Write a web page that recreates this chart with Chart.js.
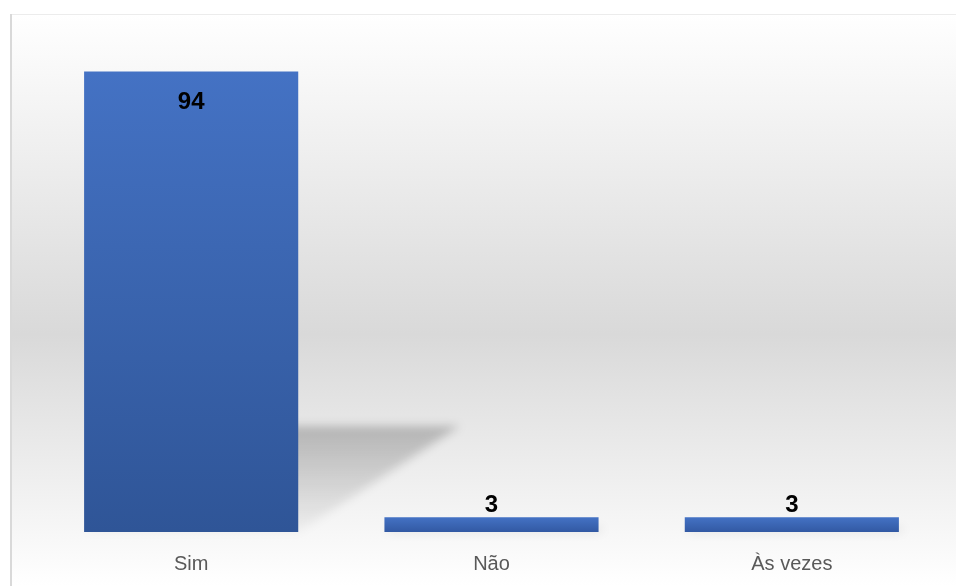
<!DOCTYPE html>
<html>
<head>
<meta charset="utf-8">
<script src="https://cdn.jsdelivr.net/npm/chart.js@4/dist/chart.umd.min.js"></script>
<style>
  html, body { margin: 0; padding: 0; background: #ffffff; }
  canvas { display: block; }
</style>
</head>
<body>
<canvas id="answerChart" width="956" height="586"></canvas>
<script>
// Respostas
const categories = ["Sim", "Não", "Às vezes"];
const answerCounts = [94, 3, 3];
const axisMax = 100;

// Panel background: framed box with a soft vertical gray gradient
const panelBackground = {
  id: "panelBackground",
  beforeDraw(chart) {
    const ctx = chart.ctx;
    const w = chart.width;
    const h = chart.height;
    ctx.save();
    ctx.fillStyle = "#ffffff";
    ctx.fillRect(0, 0, w, h);
    let grad = ctx.createLinearGradient(0, 14, 0, h);
    grad.addColorStop(0, "#ffffff");
    grad.addColorStop(0.56, "#d9d9d9");
    grad.addColorStop(1, "#ffffff");
    ctx.fillStyle = grad;
    ctx.fillRect(10, 14, w - 10, h - 14);
    ctx.fillStyle = "#ececec";
    ctx.fillRect(10, 14, w - 10, 1);
    ctx.fillStyle = "#d9d9d9";
    ctx.fillRect(10, 14, 2, h - 14);
    ctx.restore();
  },
};

// Perspective shadow thrown to the upper right of each bar
const barShadow = {
  id: "barShadow",
  beforeDatasetsDraw(chart) {
    const ctx = chart.ctx;
    const meta = chart.getDatasetMeta(0);
    ctx.save();
    ctx.filter = "blur(5px)";
    meta.data.forEach((bar) => {
      let height = bar.base - bar.y;
      let half = bar.width / 2;
      let topY = bar.base - height * 0.23;
      let skew = height * 0.35;
      let grad = ctx.createLinearGradient(0, topY, 0, bar.base);
      grad.addColorStop(0, "rgba(0,0,0,0.22)");
      grad.addColorStop(1, "rgba(0,0,0,0.03)");
      ctx.fillStyle = grad;
      ctx.beginPath();
      ctx.moveTo(bar.x - half, bar.base);
      ctx.lineTo(bar.x + half, bar.base);
      ctx.lineTo(bar.x + half + skew, topY);
      ctx.lineTo(bar.x - half + skew, topY);
      ctx.closePath();
      ctx.fill();
    });
    ctx.restore();
  },
};

// Value labels: inside the top of tall bars, above short ones
const valueLabels = {
  id: "valueLabels",
  afterDatasetsDraw(chart) {
    const ctx = chart.ctx;
    const meta = chart.getDatasetMeta(0);
    ctx.save();
    ctx.font = "bold 24px 'Liberation Sans', Arial, sans-serif";
    ctx.fillStyle = "#000000";
    ctx.textAlign = "center";
    ctx.textBaseline = "middle";
    meta.data.forEach((bar, i) => {
      let value = answerCounts[i];
      let height = bar.base - bar.y;
      let y = height > 60 ? bar.y + 31 : bar.y - 12;
      ctx.fillText(String(value), bar.x, y);
    });
    ctx.restore();
  },
};

function barGradient(context) {
  const chart = context.chart;
  if (!chart.chartArea) {
    return "#4472c4";
  }
  const yScale = chart.scales.y;
  let top = yScale.getPixelForValue(answerCounts[context.dataIndex]);
  let bottom = yScale.getPixelForValue(0);
  let grad = chart.ctx.createLinearGradient(0, top, 0, bottom);
  let small = bottom - top < 60;
  grad.addColorStop(0, "#4472c4");
  grad.addColorStop(1, small ? "#3259a3" : "#2f5597");
  return grad;
}

const ctx = document.getElementById("answerChart");
const answerChart = new Chart(ctx, {
  type: "bar",
  data: {
    labels: categories,
    datasets: [
      {
        data: answerCounts,
        backgroundColor: barGradient,
        borderWidth: 0,
        categoryPercentage: 1,
        barPercentage: 0.713,
      },
    ],
  },
  options: {
    responsive: false,
    animation: false,
    events: [],
    layout: {
      padding: { left: 41, right: 14, top: 42, bottom: 12 },
    },
    plugins: {
      legend: { display: false },
      tooltip: { enabled: false },
    },
    scales: {
      x: {
        grid: { display: false, drawTicks: false },
        border: { display: false },
        ticks: {
          padding: 20,
          color: "#595959",
          font: { family: "'Liberation Sans', Arial, sans-serif", size: 20 },
        },
        afterFit(scale) {
          scale.height = 42;
        },
      },
      y: {
        display: false,
        min: 0,
        max: axisMax,
      },
    },
  },
  plugins: [panelBackground, barShadow, valueLabels],
});
</script>
</body>
</html>
